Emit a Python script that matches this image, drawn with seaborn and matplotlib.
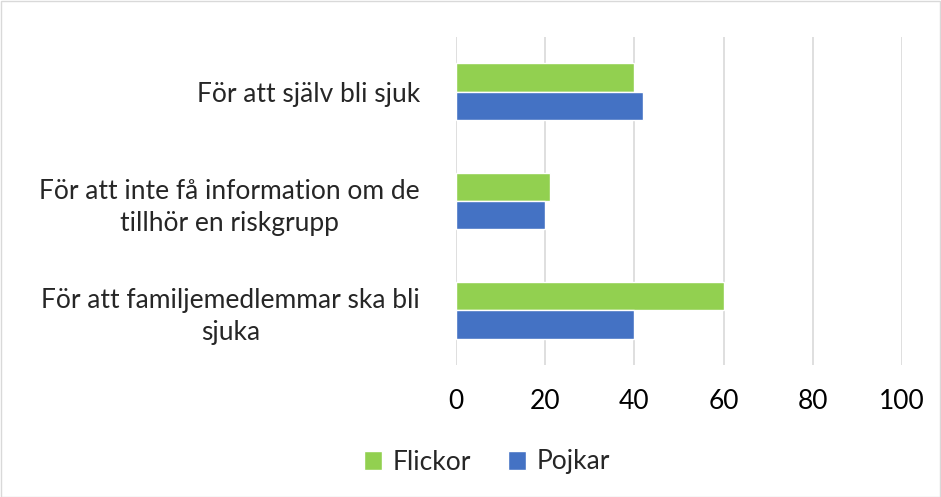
import pandas as pd
import matplotlib.pyplot as plt
import seaborn as sns
from matplotlib.patches import Rectangle

categories = [
    "För att själv bli sjuk",
    "För att inte få information om de\ntillhör en riskgrupp",
    "För att familjemedlemmar ska bli\nsjuka",
]
flickor = [40, 21, 60]
pojkar = [42, 20, 40]
series = ["Flickor", "Pojkar"]
colors = ["#92D050", "#4472C4"]

df = pd.DataFrame({
    "kategori": categories * 2,
    "grupp": [series[0]] * 3 + [series[1]] * 3,
    "varde": flickor + pojkar,
})

sns.set_style("white")
plt.rcParams["font.family"] = ["Lato", "DejaVu Sans"]

fig = plt.figure(figsize=(9.41, 4.97), dpi=100)
ax = fig.add_axes([456 / 941, 1 - 365 / 497, (902 - 456) / 941, (365 - 37) / 497])

sns.barplot(data=df, y="kategori", x="varde", hue="grupp", hue_order=series,
            palette=colors, orient="h", width=0.52, saturation=1, ax=ax)

ax.set_xlim(0, 100)
ax.set_xticks([0, 20, 40, 60, 80, 100])
ax.grid(axis="x", color="#D9D9D9", linewidth=1.2)
ax.set_axisbelow(True)
for s in ax.spines.values():
    s.set_visible(False)
ax.set_xlabel("")
ax.set_ylabel("")
ax.tick_params(axis="x", labelsize=19, pad=17, length=0, colors="#000000")
ax.tick_params(axis="y", labelsize=19, pad=26, length=0)
for lbl in ax.get_yticklabels():
    lbl.set_multialignment("center")
    lbl.set_linespacing(1.35)

ax.legend(loc="center", bbox_to_anchor=(487 / 941, 1 - 462 / 497), bbox_transform=fig.transFigure,
          ncol=2, frameon=False, fontsize=19, handlelength=0.7, handleheight=0.7,
          handletextpad=0.4, columnspacing=1.4)

fig.patches.append(Rectangle((0.001, 0.001), 0.998, 0.997, transform=fig.transFigure,
                             fill=False, edgecolor="#D9D9D9", linewidth=1))

fig.savefig("out.png", dpi=100)
